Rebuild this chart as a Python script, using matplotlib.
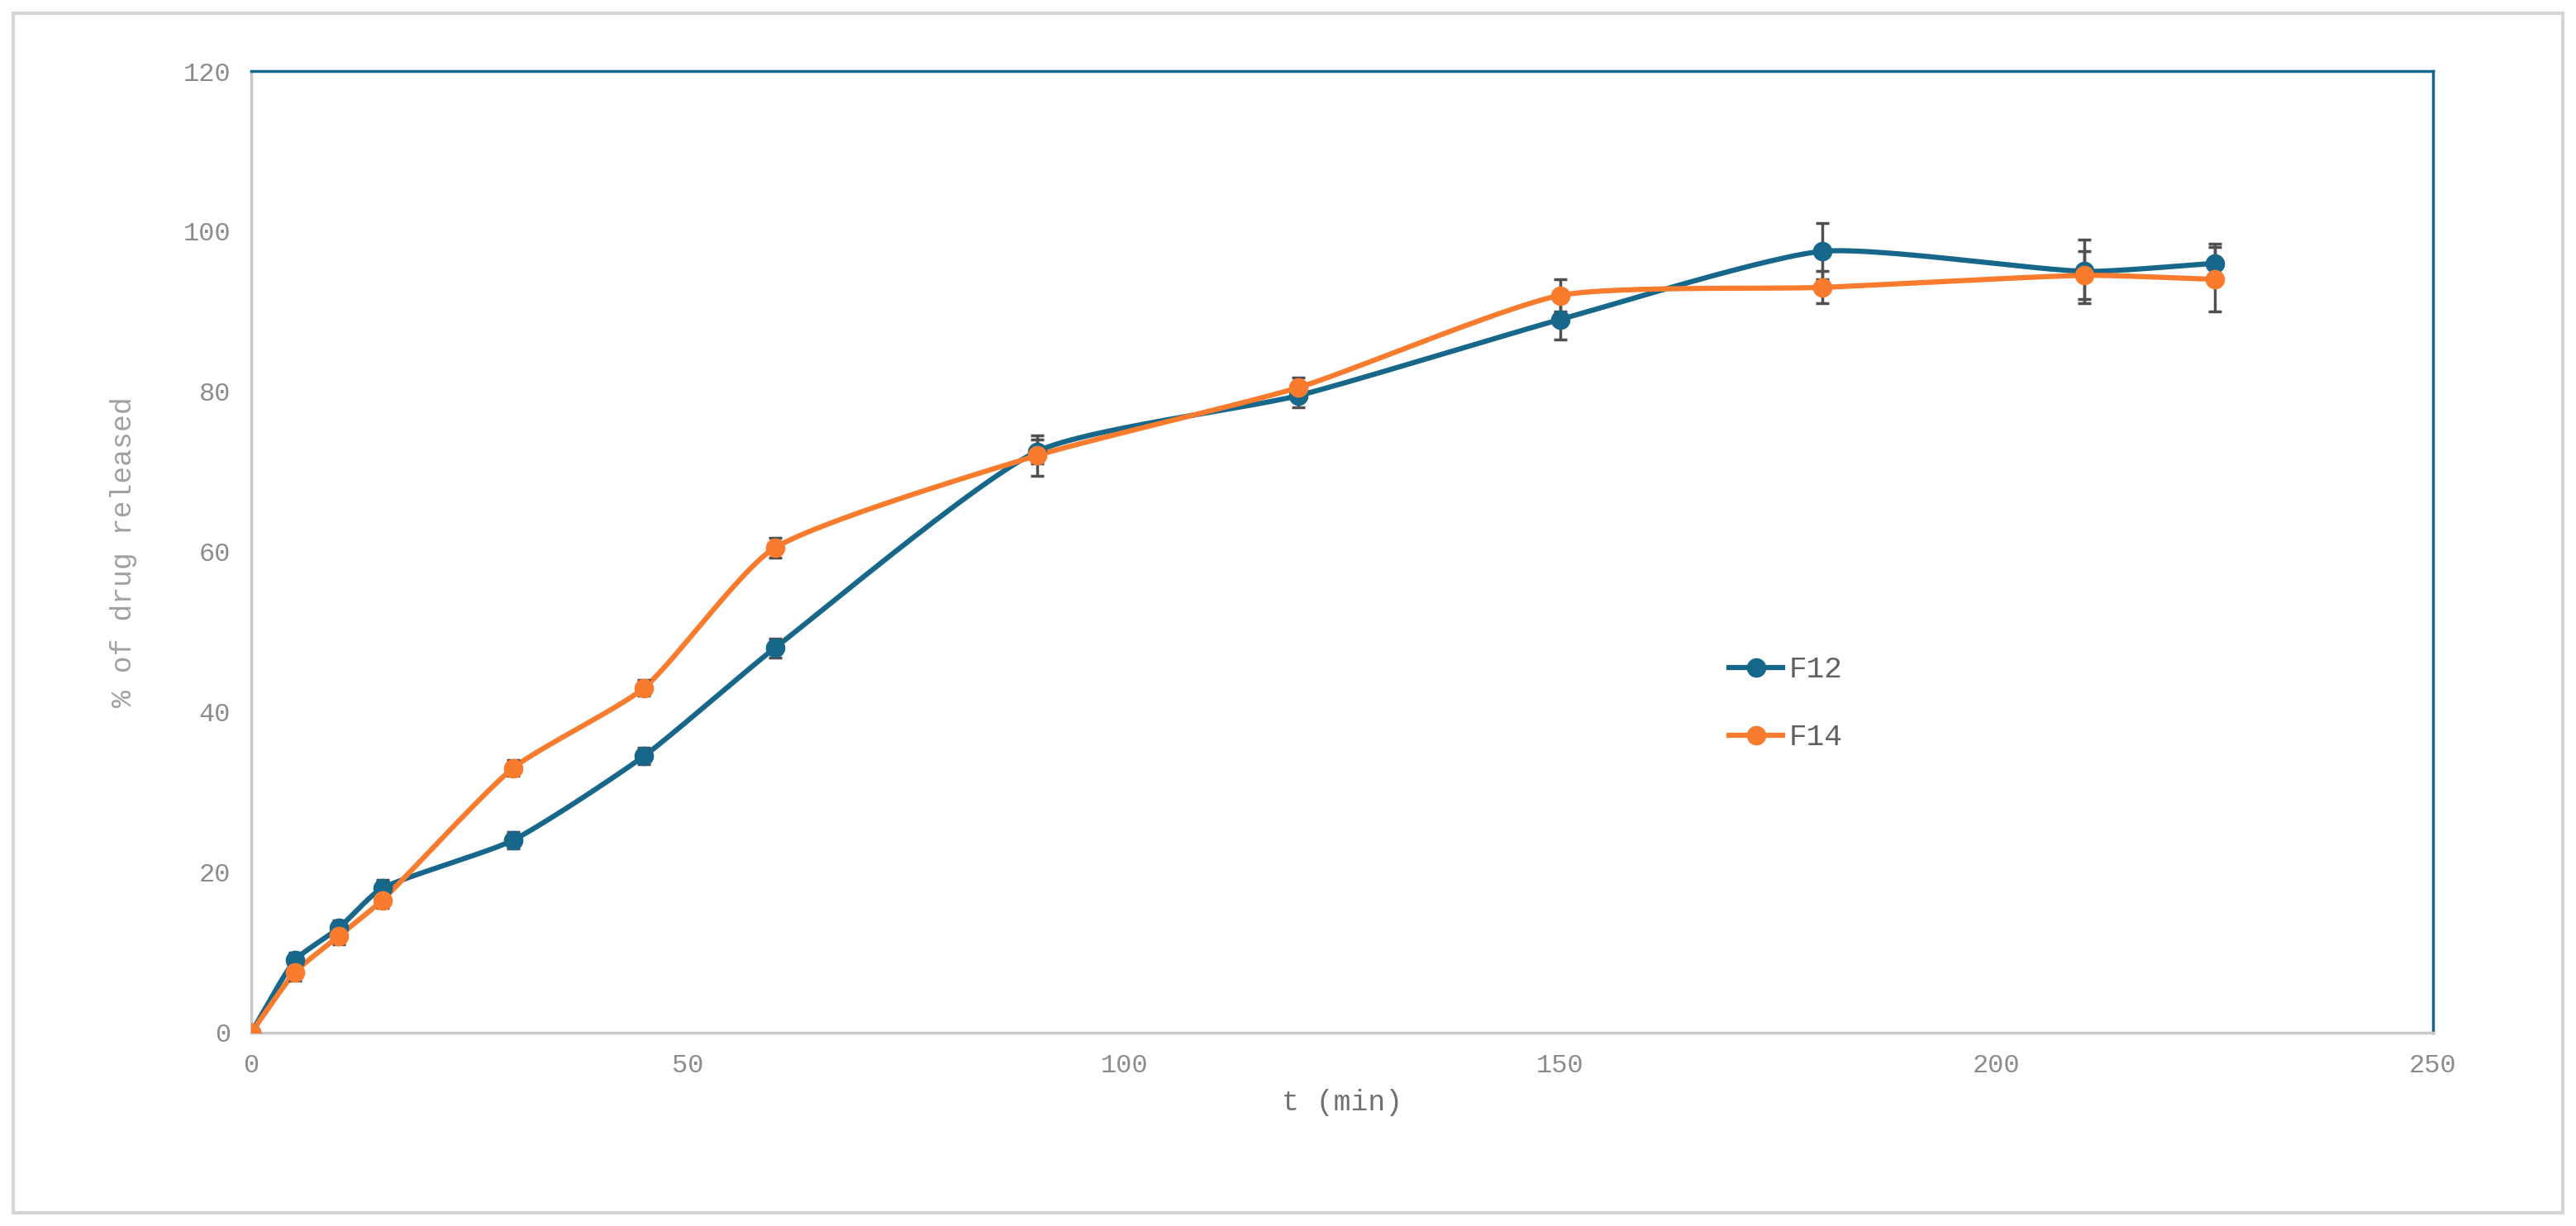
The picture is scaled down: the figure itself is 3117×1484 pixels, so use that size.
import numpy as np
import matplotlib
matplotlib.use("Agg")
import matplotlib.pyplot as plt
from matplotlib.patches import Rectangle

t = [0, 5, 10, 15, 30, 45, 60, 90, 120, 150, 180, 210, 225]
f12 = [0, 9, 13, 18, 24, 34.5, 48, 72.5, 79.5, 89, 97.5, 95, 96]
f12_err = [0.5, 1, 1, 1, 1, 1, 1.2, 1.5, 1.5, 2.5, 3.5, 4, 2.5]
f14 = [0, 7.5, 12, 16.5, 33, 43, 60.5, 72, 80.5, 92, 93, 94.5, 94]
f14_err = [0.5, 1, 1, 1, 1, 1, 1.2, 2.5, 1.2, 2, 2, 3, 4]

def smooth(x, y, n=30):
    x = np.asarray(x, float); y = np.asarray(y, float)
    px = np.concatenate([[2*x[0]-x[1]], x, [2*x[-1]-x[-2]]])
    py = np.concatenate([[2*y[0]-y[1]], y, [2*y[-1]-y[-2]]])
    X, Y = [], []
    for i in range(1, len(px)-2):
        s = np.linspace(0, 1, n, endpoint=False)
        p0, p1, p2, p3 = [np.array([px[j], py[j]]) for j in range(i-1, i+3)]
        l0 = np.linalg.norm(p1 - p0); l1 = np.linalg.norm(p2 - p1); l2 = np.linalg.norm(p3 - p2)
        m1 = (p2 - p0) * l1 / (l0 + l1) * 0.6
        m2 = (p3 - p1) * l1 / (l1 + l2) * 0.6
        h00 = 2*s**3 - 3*s**2 + 1; h10 = s**3 - 2*s**2 + s
        h01 = -2*s**3 + 3*s**2; h11 = s**3 - s**2
        pts = np.outer(h00, p1) + np.outer(h10, m1) + np.outer(h01, p2) + np.outer(h11, m2)
        X.extend(pts[:, 0]); Y.extend(pts[:, 1])
    X.append(x[-1]); Y.append(y[-1])
    return X, Y

c12 = "#17678a"
c14 = "#f97b2d"
grey = "#8c8c8c"
font = "Liberation Mono"
plt.rcParams['font.family'] = [font, 'DejaVu Sans']

fig = plt.figure(figsize=(31.17, 14.84), dpi=100)
ax = fig.add_axes([0.0976, 0.158, 0.8469, 0.784])

for y, e, c, lab in [(f12, f12_err, c12, "F12"), (f14, f14_err, c14, "F14")]:
    sx, sy = smooth(t, y)
    ax.plot(sx, sy, color=c, lw=4.5, zorder=2)
    ax.errorbar(t, y, yerr=e, fmt='none', ecolor="#505050", elinewidth=2.5, capsize=6, capthick=2.5, zorder=3)
    ax.plot(t, y, 'o', color=c, ms=16, zorder=4)
    ax.plot([], [], '-o', color=c, lw=4.5, ms=16, label=lab)

ax.set_xlim(0, 250)
ax.set_ylim(0, 120)
ax.set_xticks(range(0, 251, 50))
ax.set_yticks(range(0, 121, 20))
ax.tick_params(length=0, labelsize=23, labelcolor=grey, pad=18)
for s in ['top', 'right']:
    ax.spines[s].set_color(c12); ax.spines[s].set_linewidth(2.5)
for s in ['left', 'bottom']:
    ax.spines[s].set_color("#c8c8c8"); ax.spines[s].set_linewidth(2.5)
ax.set_xlabel("t (min)", fontsize=25, color="#707070", labelpad=10)
ax.set_ylabel("% of drug released", fontsize=25, color="#a0a0a0", labelpad=40)
ax.legend(loc='upper left', bbox_to_anchor=(0.665, 0.42), frameon=False,
          prop={'family': font, 'size': 26},
          labelcolor="#606060", handlelength=1.8, handletextpad=0.2, labelspacing=1.3)

fig.patches.append(Rectangle((0.005, 0.011), 0.99, 0.978, transform=fig.transFigure,
                             fill=False, edgecolor="#d5d5d5", lw=3))
fig.savefig("out.png", dpi=100)
